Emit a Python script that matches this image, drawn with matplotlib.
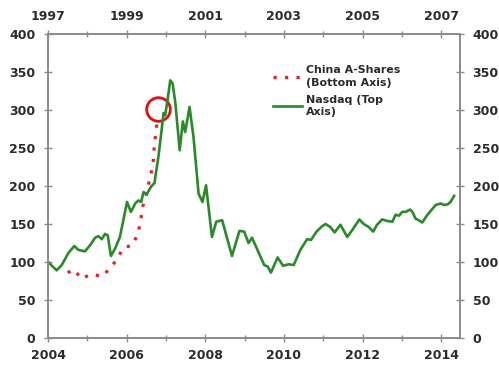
import matplotlib
matplotlib.use("Agg")
import matplotlib.pyplot as plt
from matplotlib.ticker import MultipleLocator

# Nasdaq (top axis, years 1997-2007), indexed to 100
nasdaq_year = [1997.00, 1997.22, 1997.35, 1997.52, 1997.67, 1997.77, 1997.94, 1998.07,
               1998.20, 1998.28, 1998.37, 1998.45, 1998.52, 1998.60, 1998.71, 1998.83,
               1999.01, 1999.11, 1999.22, 1999.30, 1999.37, 1999.43, 1999.51, 1999.62,
               1999.71, 1999.73, 1999.81, 1999.87, 1999.94, 1999.98, 2000.04, 2000.11,
               2000.17, 2000.24, 2000.35, 2000.43, 2000.49, 2000.60, 2000.70, 2000.83,
               2000.93, 2001.02, 2001.17, 2001.28, 2001.43, 2001.68, 2001.87, 2001.99,
               2002.10, 2002.19, 2002.50, 2002.59, 2002.67, 2002.84, 2002.98, 2003.12,
               2003.25, 2003.42, 2003.59, 2003.69, 2003.83, 2003.97, 2004.06, 2004.18,
               2004.29, 2004.44, 2004.61, 2004.74, 2004.92, 2005.03, 2005.16, 2005.27,
               2005.37, 2005.50, 2005.63, 2005.76, 2005.84, 2005.93, 2006.01, 2006.10,
               2006.21, 2006.27, 2006.35, 2006.43, 2006.52, 2006.65, 2006.86, 2006.99,
               2007.07, 2007.17, 2007.24, 2007.33]
nasdaq_value = [100, 89, 96, 112, 121, 116, 114, 122,
                132, 134, 130, 137, 135, 108, 118, 133,
                179, 166, 177, 181, 179, 192, 189, 199,
                204, 212, 239, 265, 296, 293, 313, 339,
                335, 309, 247, 285, 271, 304, 265, 190,
                179, 201, 133, 153, 155, 108, 141, 140,
                125, 132, 96, 94, 86, 106, 95, 97,
                96, 116, 130, 129, 140, 147, 150, 146,
                139, 149, 133, 142, 156, 150, 146, 140,
                149, 156, 154, 153, 162, 161, 166, 166,
                169, 166, 157, 155, 152, 162, 175, 177,
                175, 176, 179, 187]

# China A-Shares (bottom axis, years 2004-2014)
china_year = [2004.50, 2004.67, 2004.84, 2005.11, 2005.38, 2005.62, 2005.78, 2005.92,
              2006.15, 2006.29, 2006.36, 2006.41, 2006.50, 2006.56, 2006.64, 2006.68,
              2006.70, 2006.73, 2006.77]
china_value = [86, 90, 78, 84, 81, 94, 106, 119,
               122, 138, 155, 173, 188, 203, 221, 234,
               250, 265, 282]

highlight_year = [2006.81]
highlight_value = [301]

bottom_ticks = [2004, 2006, 2008, 2010, 2012, 2014]
top_ticks = [1997, 1999, 2001, 2003, 2005, 2007]
y_ticks = [0, 50, 100, 150, 200, 250, 300, 350, 400]

W, H = 499, 367
fig = plt.figure(figsize=(W / 100, H / 100), dpi=100)
ax = fig.add_axes([48 / W, (H - 338) / H, (460 - 48) / W, (338 - 34) / H])
ax2 = ax.twiny()

txt = '#2b2b2b'
spine_c = '#8c8c8c'

l1, = ax.plot(china_year, china_value, color='#e8202a', lw=2.3,
              linestyle=(0, (1.0, 2.6)), label='China A-Shares\n(Bottom Axis)', zorder=3)
l2, = ax2.plot(nasdaq_year, nasdaq_value, color='#2a8a2a', lw=1.9,
               label='Nasdaq (Top\nAxis)', zorder=2)
ax.plot(highlight_year, highlight_value, marker='o', markersize=17,
        markerfacecolor='none', markeredgecolor='#e01010', markeredgewidth=2.0,
        linestyle='none', zorder=5)

ax.set_xlim(2004, 2014.48)
ax2.set_xlim(1997, 2007.48)
ax.set_ylim(0, 400)

ax.set_xticks(bottom_ticks)
ax.xaxis.set_minor_locator(MultipleLocator(1))
ax2.set_xticks(top_ticks)
ax2.xaxis.set_minor_locator(MultipleLocator(1))
ax.set_yticks(y_ticks)

for a in (ax, ax2):
    for s in a.spines.values():
        s.set_color(spine_c)
        s.set_linewidth(1.3)

ax.tick_params(axis='both', which='major', direction='inout', length=6, width=1,
               color=spine_c, labelsize=9, labelcolor=txt)
ax.tick_params(axis='y', right=True, labelright=True, pad=6)
ax.tick_params(axis='x', which='major', pad=5)
ax.tick_params(axis='x', which='minor', direction='inout', length=4, width=1, color=spine_c)
ax2.tick_params(axis='x', which='major', direction='inout', length=6, width=1,
                color=spine_c, labelsize=9, labelcolor=txt, pad=5)
ax2.tick_params(axis='x', which='minor', direction='inout', length=4, width=1, color=spine_c)

for lab in ax.get_xticklabels() + ax.get_yticklabels() + ax2.get_xticklabels():
    lab.set_fontweight('bold')
for t in ax.yaxis.get_major_ticks():
    t.label2.set_fontweight('bold')

leg = ax2.legend(handles=[l1, l2], loc='upper left', bbox_to_anchor=(0.535, 0.912),
                 frameon=False, fontsize=7.9, handlelength=2.7, handletextpad=0.3,
                 labelspacing=0.6, borderaxespad=0)
for t in leg.get_texts():
    t.set_fontweight('bold')
    t.set_color(txt)
    t.set_linespacing(1.35)

fig.savefig('out.png', dpi=100)
